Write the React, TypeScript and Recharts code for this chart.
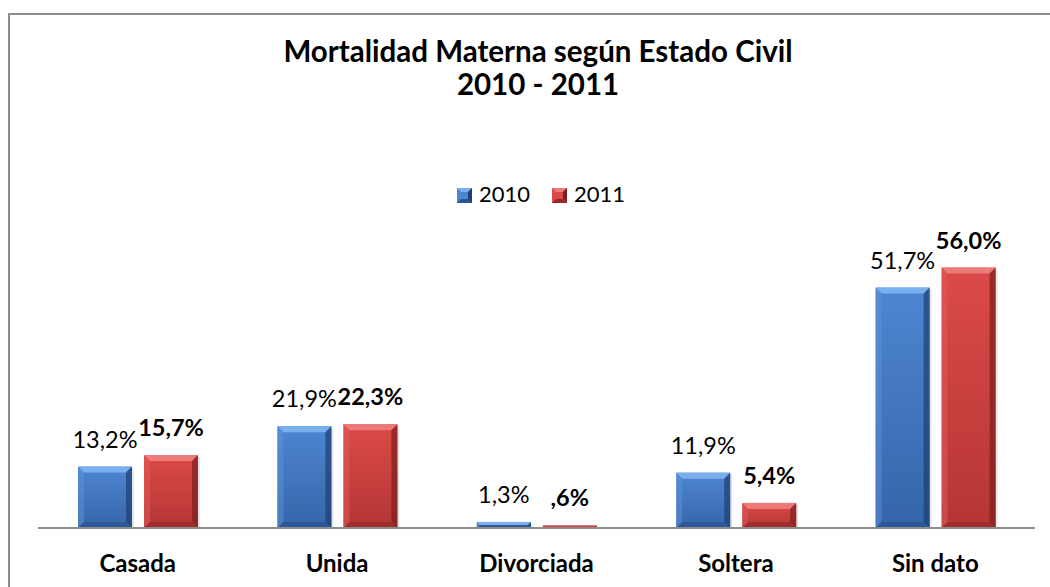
import { BarChart, Bar, XAxis, YAxis, LabelList } from 'recharts';

const categories = ['Casada', 'Unida', 'Divorciada', 'Soltera', 'Sin dato'];
const values2010 = [13.2, 21.9, 1.3, 11.9, 51.7];
const values2011 = [15.7, 22.3, 0.6, 5.4, 56.0];
const seriesNames = ['2010', '2011'];
const titleLines = ['Mortalidad Materna según Estado Civil', '2010 - 2011'];

const FONT = 'Lato, "Open Sans", sans-serif';

const palettes = {
  blue: { top: '#4f86d2', bottom: '#3465a8', bevelTop: '#7bb0ee', bevelLeft: '#5d92dc', bevelRight: '#1f3f72', bevelBottom: '#2a5290' },
  red: { top: '#db4a48', bottom: '#b53634', bevelTop: '#ec7a78', bevelLeft: '#e05c5a', bevelRight: '#7c1f1e', bevelBottom: '#94292a' },
};

const data = categories.map((name, i) => ({
  name,
  y2010: values2010[i],
  y2011: values2011[i],
}));

// Excel style: comma decimal, no leading zero on the 2011 series
const fmtPct = (v: number) => v.toFixed(1).replace('.', ',') + '%';
const fmtPctNoZero = (v: number) => fmtPct(v).replace(/^0,/, ',');

const BevelBar = (props: any) => {
  const { x, y, width, height, color } = props;
  if (!height || height <= 0) return null;
  const p = palettes[color as 'blue' | 'red'];
  const b = Math.min(6, height / 2, width / 2);
  const r = x + width;
  const btm = y + height;
  return (
    <g>
      <rect x={x + 2} y={y + 2} width={width} height={height - 2} fill='#000' opacity={0.1} />
      <rect x={x} y={y} width={width} height={height} fill={`url(#grad-${color})`} />
      <polygon points={`${x},${y} ${r},${y} ${r - b},${y + b} ${x + b},${y + b}`} fill={p.bevelTop} />
      <polygon points={`${x},${y} ${x + b},${y + b} ${x + b},${btm - b} ${x},${btm}`} fill={p.bevelLeft} opacity={0.5} />
      <polygon points={`${r},${y} ${r},${btm} ${r - b},${btm - b} ${r - b},${y + b}`} fill={p.bevelRight} opacity={0.7} />
      <polygon points={`${x},${btm} ${r},${btm} ${r - b},${btm - b} ${x + b},${btm - b}`} fill={p.bevelBottom} opacity={0.7} />
    </g>
  );
};

const LegendIcon = ({ x, y, color }: { x: number; y: number; color: 'blue' | 'red' }) => {
  const p = palettes[color];
  const s = 15;
  const b = 4;
  return (
    <g>
      <rect x={x} y={y} width={s} height={s} fill={p.top} />
      <polygon points={`${x},${y} ${x + s},${y} ${x + s - b},${y + b} ${x + b},${y + b}`} fill={p.bevelTop} />
      <polygon points={`${x + s},${y} ${x + s},${y + s} ${x + s - b},${y + s - b} ${x + s - b},${y + b}`} fill={p.bevelRight} />
      <polygon points={`${x},${y + s} ${x + s},${y + s} ${x + s - b},${y + s - b} ${x + b},${y + s - b}`} fill={p.bevelBottom} />
    </g>
  );
};

const legendColors: ('blue' | 'red')[] = ['blue', 'red'];
const legendX = [457, 552];

export default function App() {
  return (
    <div style={{ position: 'fixed', left: 0, top: 0, width: 1050, height: 587, overflow: 'hidden', background: '#fff' }}>
      <BarChart
        width={1050}
        height={587}
        data={data}
        margin={{ top: 249, right: 15, bottom: 0, left: 38 }}
        barSize={54}
        barGap={12}
      >
        <defs>
          {legendColors.map((c) => (
            <linearGradient key={c} id={`grad-${c}`} x1='0' y1='0' x2='0' y2='1'>
              <stop offset='0%' stopColor={palettes[c].top} />
              <stop offset='100%' stopColor={palettes[c].bottom} />
            </linearGradient>
          ))}
        </defs>
        <XAxis
          dataKey='name'
          height={59}
          tickLine={false}
          tickSize={0}
          tickMargin={27}
          axisLine={{ stroke: '#8c8c8c', strokeWidth: 2 }}
          tick={{ fontFamily: FONT, fontSize: 24, fontWeight: 700, fill: '#000' }}
          interval={0}
        />
        <YAxis hide domain={[0, 60]} />
        <Bar dataKey='y2010' isAnimationActive={false} shape={(p: any) => <BevelBar {...p} color='blue' />}>
          <LabelList
            dataKey='y2010'
            position='top'
            offset={19}
            formatter={(v: any) => fmtPct(Number(v))}
            style={{ fontFamily: FONT, fontSize: 23.5, fill: '#000' }}
          />
        </Bar>
        <Bar dataKey='y2011' isAnimationActive={false} shape={(p: any) => <BevelBar {...p} color='red' />}>
          <LabelList
            dataKey='y2011'
            position='top'
            offset={19}
            formatter={(v: any) => fmtPctNoZero(Number(v))}
            style={{ fontFamily: FONT, fontSize: 23.5, fontWeight: 700, fill: '#000' }}
          />
        </Bar>
      </BarChart>
      <svg width={1050} height={587} style={{ position: 'absolute', left: 0, top: 0, pointerEvents: 'none' }}>
        <path d='M9,600 V14 H1060' fill='none' stroke='#8c8c8c' strokeWidth={2} />
        {titleLines.map((t, i) => (
          <text key={t} x={538} y={62 + i * 33} textAnchor='middle' fontFamily={FONT} fontSize={29.5} fontWeight={700} fill='#000'>
            {t}
          </text>
        ))}
        {seriesNames.map((s, i) => (
          <g key={s}>
            <LegendIcon x={legendX[i]} y={188} color={legendColors[i]} />
            <text x={legendX[i] + 22} y={202} fontFamily={FONT} fontSize={22} fill='#000'>
              {s}
            </text>
          </g>
        ))}
      </svg>
    </div>
  );
}
